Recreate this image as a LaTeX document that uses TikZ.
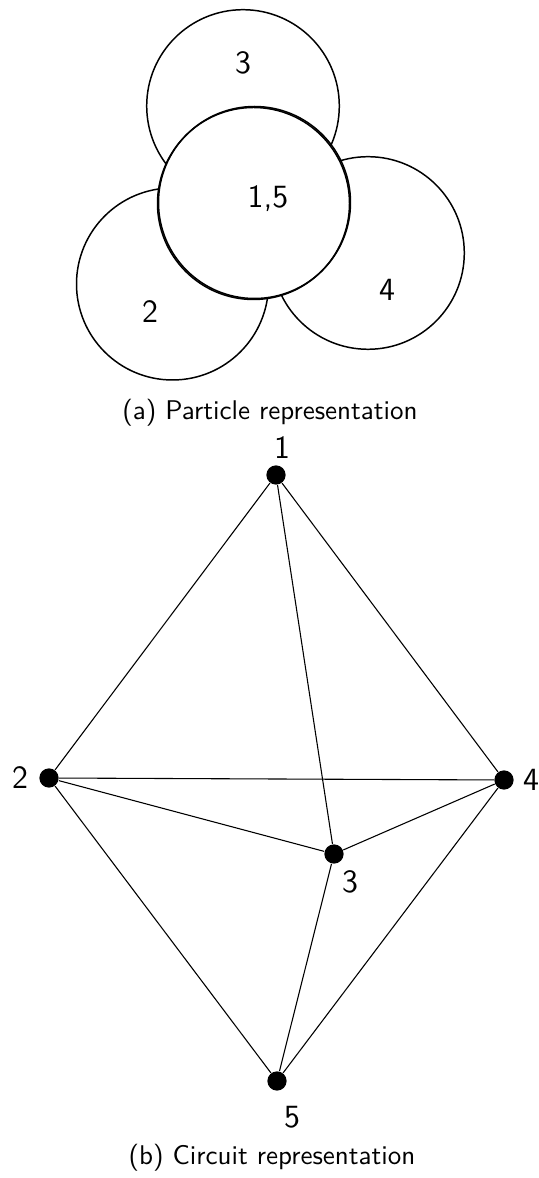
\documentclass[tikz,border=0pt]{standalone}
\usetikzlibrary{positioning}
\renewcommand{\familydefault}{\sfdefault}
\tikzset{
  vertex/.style={circle,fill=black,inner sep=0pt,minimum size=0.25cm},
  particle/.style={line width=0.55pt},
  tag/.style={font=\large},
}
\begin{document}
\begin{tikzpicture}[x=1.3cm,y=1.3cm]
  \useasboundingbox (0,0) rectangle (5.39,11.78);
  % Particles
  \draw[particle] (2.43,10.72) circle (0.963);
  \draw[particle,fill=white] (1.725,8.94) circle (0.96);
  \draw[particle,fill=white] (3.68,9.25) circle (0.963);
  \draw[particle,fill=white] (2.535,9.745) circle (0.96);
  \draw[particle] (2.545,9.755) circle (0.96);
  \node[tag] (p3) at (2.43,11.15) {3};
  \node[tag] (p15) at (2.68,9.79) {1,5};
  \node[tag] (p4) at (3.87,8.88) {4};
  \node[tag] (p2) at (1.50,8.66) {2};
  \node (capa) at (2.70,7.65) {(a) Particle representation};
  % Circuit
  \node[vertex] (n1) at (2.76,7.03) {};
  \node[vertex] (n2) at (0.49,4.00) {};
  \node[vertex] (n3) at (3.34,3.24) {};
  \node[vertex] (n4) at (5.04,3.98) {};
  \node[vertex] (n5) at (2.77,0.97) {};
  \node[tag] (l1) at (2.82,7.30) {1};
  \node[tag] (l2) at (0.20,4.00) {2};
  \node[tag] (l3) at (3.50,2.96) {3};
  \node[tag] (l4) at (5.31,3.98) {4};
  \node[tag] (l5) at (2.92,0.61) {5};
  \draw (n1) -- (n2);
  \draw (n1) -- (n3);
  \draw (n1) -- (n4);
  \draw (n2) -- (n4);
  \draw (n2) -- (n3);
  \draw (n3) -- (n4);
  \draw (n2) -- (n5);
  \draw (n3) -- (n5);
  \draw (n4) -- (n5);
  \node (capb) at (2.72,0.20) {(b) Circuit representation};
\end{tikzpicture}
\end{document}
